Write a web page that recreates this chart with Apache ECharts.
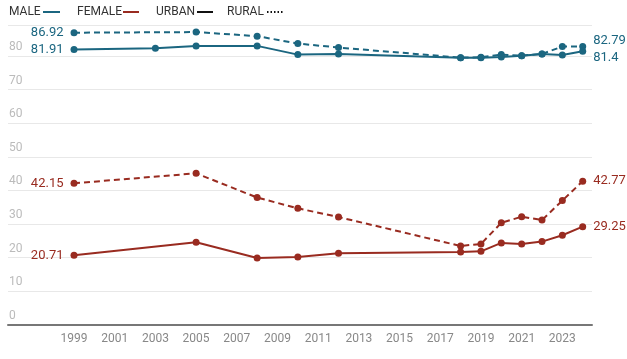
<!DOCTYPE html>
<html><head><meta charset="utf-8">
<script src="https://cdn.jsdelivr.net/npm/echarts@6/dist/echarts.min.js"></script>
<style>html,body{margin:0;padding:0;background:#fff}#c{width:627px;height:359px}</style>
</head><body><div id="c"></div>
<script>
const yearsMaleUrban = [1999, 2003, 2005, 2008, 2010, 2012, 2018, 2019, 2020, 2021, 2022, 2023, 2024];
const maleUrban      = [81.91, 82.3, 83.0, 83.0, 80.4, 80.6, 79.5, 79.5, 79.7, 80.1, 80.6, 80.3, 81.4];
const yearsOther     = [1999, 2005, 2008, 2010, 2012, 2018, 2019, 2020, 2021, 2022, 2023, 2024];
const maleRural      = [86.92, 87.1, 85.9, 83.7, 82.5, 79.5, 79.6, 80.4, 80.1, 80.6, 82.8, 82.79];
const femaleUrban    = [20.71, 24.6, 19.9, 20.2, 21.3, 21.7, 21.9, 24.4, 24.1, 24.8, 26.7, 29.25];
const femaleRural    = [42.15, 45.1, 37.9, 34.7, 32.1, 23.5, 24.1, 30.4, 32.2, 31.2, 37.0, 42.77];
const xTickLabels    = [1999, 2001, 2003, 2005, 2007, 2009, 2011, 2013, 2015, 2017, 2019, 2021, 2023];

const TEAL = '#1b6680', RED = '#992b20';
function build(years, vals, color, endOffset) {
  return years.map((y, i) => {
    const p = { value: [y, vals[i]] };
    if (i === 0) p.label = { show: true, position: 'left', distance: 7, color, fontSize: 13, formatter: String(vals[i]) };
    if (i === years.length - 1) p.label = { show: true, position: 'right', distance: 7, color, fontSize: 13, offset: [0, endOffset], formatter: String(vals[i]) };
    return p;
  });
}
function ser(name, years, vals, color, dashed, endOffset) {
  return {
    name, type: 'line', data: build(years, vals, color, endOffset),
    symbol: 'circle', symbolSize: 7,
    lineStyle: { color, width: 2, type: dashed ? [6, 4] : 'solid' },
    itemStyle: { color }, emphasis: { disabled: true }, animation: false
  };
}
const chart = echarts.init(document.getElementById('c'));
const legTxt = (x, t) => ({ type: 'text', x: x, y: 12, style: { text: t, fill: '#333', font: '12px Roboto', verticalAlign: 'middle', align: 'left' } });
const legLine = (x1, x2, color, dash) => ({ type: 'line', shape: { x1, y1: 12, x2, y2: 12 }, style: { stroke: color, lineWidth: 2, lineDash: dash || null } });
chart.setOption({
  textStyle: { fontFamily: 'Roboto' },
  grid: { left: 8, right: 35, top: 25.7, bottom: 34 },
  xAxis: {
    type: 'value', min: 1995.756, max: 2024.457,
    splitLine: { show: false },
    axisLine: { show: true, onZero: false, lineStyle: { color: '#777', width: 2 } },
    axisTick: { show: false },
    axisLabel: { customValues: xTickLabels, color: '#888', fontSize: 12, margin: 8, formatter: v => String(v) }
  },
  yAxis: {
    type: 'value', min: 0, max: 89, interval: 10,
    axisLine: { show: false }, axisTick: { show: false },
    splitLine: { lineStyle: { color: '#e8e8e8', width: 1 } },
    axisLabel: { inside: true, verticalAlign: 'bottom', align: 'left', margin: 1, color: '#bbb', fontSize: 12, padding: [0, 0, 3, 0], showMaxLabel: false }
  },
  series: [
    ser('Male rural', yearsOther, maleRural, TEAL, true, -6),
    ser('Male urban', yearsMaleUrban, maleUrban, TEAL, false, 6),
    ser('Female rural', yearsOther, femaleRural, RED, true, 0),
    ser('Female urban', yearsOther, femaleUrban, RED, false, 0)
  ],
  graphic: [
    legTxt(9, 'MALE'), legLine(43, 60, TEAL),
    legTxt(77, 'FEMALE'), legLine(123, 139, RED),
    legTxt(156, 'URBAN'), legLine(197, 213, '#111'),
    legTxt(227, 'RURAL'), legLine(267, 284, '#111', [1.5, 2])
  ]
});
</script></body></html>
